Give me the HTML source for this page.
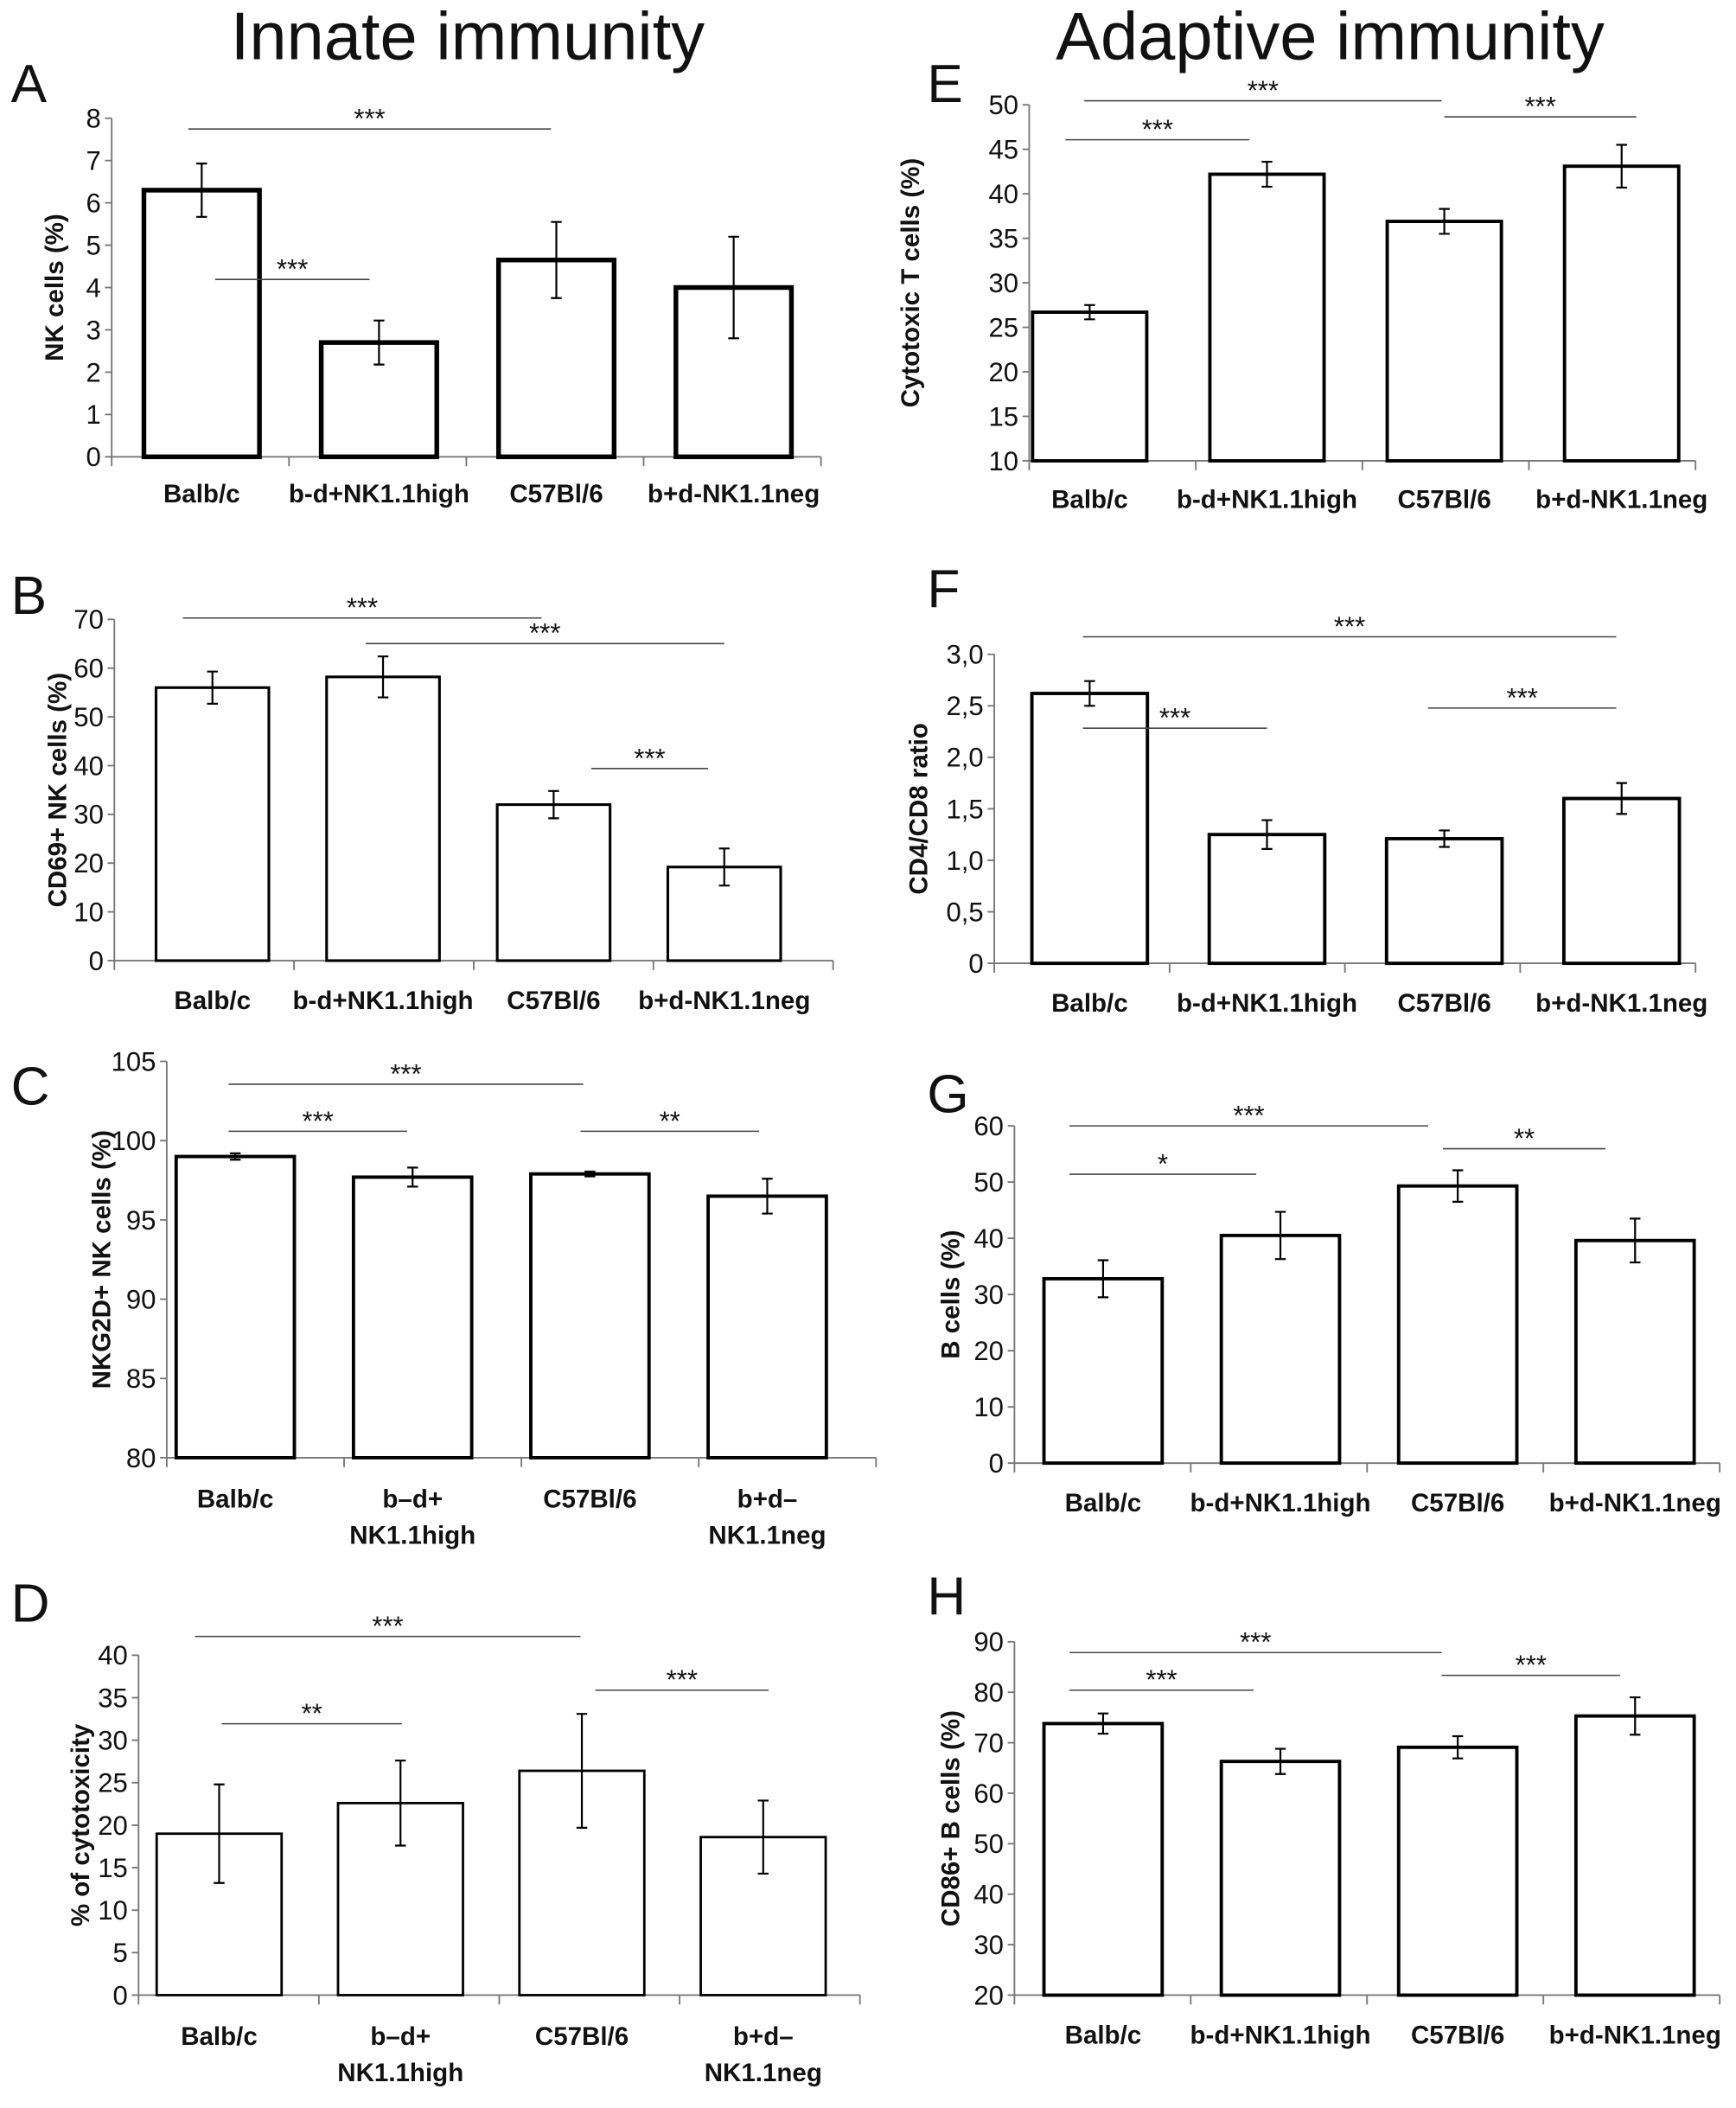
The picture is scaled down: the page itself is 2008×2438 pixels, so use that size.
<!DOCTYPE html>
<html><head><meta charset="utf-8"><style>
html,body{margin:0;padding:0;background:#fff;}
svg{display:block;}
text{font-family:"Liberation Sans Narrow","Liberation Sans",sans-serif;fill:#111;}
</style></head><body>
<svg id="fig" width="2008" height="2438" viewBox="0 0 1292 1569" xmlns="http://www.w3.org/2000/svg">
<text x="348" y="44" font-size="50" text-anchor="middle">Innate immunity</text>
<text x="990" y="44" font-size="50" text-anchor="middle">Adaptive immunity</text>
</svg>
<script>
const categories = ["Balb/c","b-d+NK1.1high","C57Bl/6","b+d-NK1.1neg"];
const aValues=[6.3,2.7,4.65,4.0]; const aErrors=[0.63,0.52,0.9,1.2];
const bValues=[56,58.2,32,19.2]; const bErrors=[3.3,4.2,2.8,3.8];
const cValues=[99.0,97.7,97.9,96.5]; const cErrors=[0.2,0.6,0.15,1.1];
const dValues=[19.0,22.6,26.4,18.6]; const dErrors=[5.8,5.0,6.7,4.3];
const eValues=[26.7,42.2,36.9,43.1]; const eErrors=[0.8,1.4,1.4,2.4];
const fValues=[2.62,1.25,1.21,1.6]; const fErrors=[0.12,0.14,0.08,0.15];
const gValues=[32.8,40.5,49.3,39.6]; const gErrors=[3.3,4.2,2.8,3.9];
const hValues=[73.8,66.3,69.1,75.3]; const hErrors=[2.0,2.5,2.2,3.7];
const aTicks=["0","1","2","3","4","5","6","7","8"];
const bTicks=["0","10","20","30","40","50","60","70"];
const cTicks=["80","85","90","95","100","105"];
const dTicks=["0","5","10","15","20","25","30","35","40"];
const eTicks=["10","15","20","25","30","35","40","45","50"];
const fTicks=["0","0,5","1,0","1,5","2,0","2,5","3,0"];
const gTicks=["0","10","20","30","40","50","60"];
const hTicks=["20","30","40","50","60","70","80","90"];
const NS="http://www.w3.org/2000/svg";
const svg=document.getElementById('fig');
function mk(tag,attrs,parent){const e=document.createElementNS(NS,tag);for(const k in attrs)e.setAttribute(k,attrs[k]);(parent||svg).appendChild(e);return e;}
const panels=[
 {id:'a',letter:'A',lx:8,ly:76,vals:aValues,errs:aErrors,ticks:aTicks,min:0,max:8,ax:83,y0:340,y1:88,c0:150,sp:132,bw:86,sw:3.5,axEnd:611,title:'NK cells (%)',tx:47,twoLine:false,lbY:367,
  sig:[[140,410,96,'***'],[160,275,208,'***']]},
 {id:'b',letter:'B',lx:8,ly:457,vals:bValues,errs:bErrors,ticks:bTicks,min:0,max:70,ax:85,y0:715,y1:461,c0:158,sp:127,bw:84,sw:2,axEnd:620,title:'CD69+ NK cells (%)',tx:49,twoLine:false,lbY:744,
  sig:[[136,403,460,'***'],[272,539,479,'***'],[440,527,572,'***']]},
 {id:'c',letter:'C',lx:8,ly:822,vals:cValues,errs:cErrors,ticks:cTicks,min:80,max:105,ax:124,y0:1085,y1:790,c0:175,sp:132,bw:88,sw:2.5,axEnd:652,title:'NKG2D+ NK cells (%)',tx:82,twoLine:true,lbY:1115,
  sig:[[170,434,807,'***'],[170,303,842,'***'],[432,565,842,'**']]},
 {id:'d',letter:'D',lx:8,ly:1207,vals:dValues,errs:dErrors,ticks:dTicks,min:0,max:40,ax:103,y0:1485,y1:1232,c0:163,sp:135,bw:93,sw:1.8,axEnd:640,title:'% of cytotoxicity',tx:66,twoLine:true,lbY:1515,
  sig:[[145,432,1218,'***'],[165,299,1283,'**'],[443,572,1258,'***']]},
 {id:'e',letter:'E',lx:690,ly:76,vals:eValues,errs:eErrors,ticks:eTicks,min:10,max:50,ax:766,y0:343,y1:78,c0:811,sp:132,bw:85,sw:2.5,axEnd:1262,title:'Cytotoxic T cells (%)',tx:684,twoLine:false,lbY:371,
  sig:[[807,1073,75,'***'],[793,930,104,'***'],[1075,1218,87,'***']]},
 {id:'f',letter:'F',lx:690,ly:452,vals:fValues,errs:fErrors,ticks:fTicks,min:0,max:3,ax:740,y0:717,y1:487,c0:811,sp:132,bw:86,sw:2.5,axEnd:1262,title:'CD4/CD8 ratio',tx:690,twoLine:false,lbY:746,
  sig:[[806,1203,474,'***'],[806,943,542,'***'],[1063,1203,527,'***']]},
 {id:'g',letter:'G',lx:690,ly:828,vals:gValues,errs:gErrors,ticks:gTicks,min:0,max:60,ax:755,y0:1089,y1:838,c0:821,sp:132,bw:88,sw:2.5,axEnd:1280,title:'B cells (%)',tx:714,twoLine:false,lbY:1118,
  sig:[[796,1063,838,'***'],[796,935,874,'*'],[1074,1195,855,'**']]},
 {id:'h',letter:'H',lx:690,ly:1202,vals:hValues,errs:hErrors,ticks:hTicks,min:20,max:90,ax:755,y0:1485,y1:1222,c0:821,sp:132,bw:88,sw:2.5,axEnd:1280,title:'CD86+ B cells (%)',tx:714,twoLine:false,lbY:1514,
  sig:[[796,1073,1230,'***'],[796,933,1258,'***'],[1073,1206,1247,'***']]}
];
const twoLineLabels=[["Balb/c",""],["b\u2013d+","NK1.1high"],["C57Bl/6",""],["b+d\u2013","NK1.1neg"]];
panels.forEach(p=>{
 const g=mk('g',{});
 
 
 const yS=v=>p.y0-(v-p.min)/(p.max-p.min)*(p.y0-p.y1);
 const xS=i=>p.c0+i*p.sp;
 const L=mk('text',{x:p.lx,y:p.ly,'font-size':40},g); L.textContent=p.letter;
 
 
 const ya=mk('line',{x1:p.ax,y1:p.y1,x2:p.ax,y2:p.y0,stroke:'#777','stroke-width':1.2},g);
 
 
 const xa=mk('line',{x1:p.ax,y1:p.y0,x2:p.axEnd,y2:p.y0,stroke:'#777','stroke-width':1.2},g);
 
 
 for(let k=0;k<=4;k++){const bx=p.ax+k*(p.axEnd-p.ax)/4;mk('line',{x1:bx,y1:p.y0,x2:bx,y2:p.y0+7,stroke:'#777','stroke-width':1.2},g);}
 const step=(p.max-p.min)/(p.ticks.length-1);
 p.ticks.forEach((t,i)=>{const y=yS(p.min+i*step);
  mk('line',{x1:p.ax-5,y1:y,x2:p.ax,y2:y,stroke:'#777','stroke-width':1.2},g);
  const tt=mk('text',{x:p.ax-8,y:y+7,'font-size':20,'text-anchor':'end'},g);tt.textContent=t;
  
  });
 const yt=mk('text',{x:0,y:0,'font-size':19,'font-weight':'bold','text-anchor':'middle',transform:`translate(${p.tx},${(p.y0+p.y1)/2}) rotate(-90)`,style:'font-family:"Liberation Sans",sans-serif'},g);
 yt.textContent=p.title;
 
 
 p.vals.forEach((v,i)=>{
  const x=xS(i),top=yS(v);
  const r=mk('rect',{x:x-p.bw/2,y:top,width:p.bw,height:p.y0-top,fill:'#fff',stroke:'#000','stroke-width':p.sw},g);
  
  
  const e=p.errs[i],ya1=yS(v+e),ya2=yS(v-e);
  const eb=mk('path',{d:`M${x},${ya1}V${ya2}M${x-4},${ya1}H${x+4}M${x-4},${ya2}H${x+4}`,stroke:'#000','stroke-width':1.4,fill:'none'},g);
  
  
  if(p.twoLine){
   const lb=twoLineLabels[i];
   const t1=mk('text',{x:x,y:p.lbY+7,'font-size':19,'font-weight':'bold','text-anchor':'middle'},g);t1.textContent=lb[0];
   
   
   if(lb[1]){const t2=mk('text',{x:x,y:p.lbY+34,'font-size':19,'font-weight':'bold','text-anchor':'middle'},g);t2.textContent=lb[1];
    
    }
  } else {
   const t1=mk('text',{x:x,y:p.lbY+7,'font-size':19,'font-weight':'bold','text-anchor':'middle'},g);t1.textContent=categories[i];
   
   
  }
 });
 p.sig.forEach(s=>{
  const sl=mk('line',{x1:s[0],y1:s[2],x2:s[1],y2:s[2],stroke:'#444','stroke-width':1},g);
  
  
  const st=mk('text',{x:(s[0]+s[1])/2,y:s[2]-1,'font-size':20,'text-anchor':'middle'},g);st.textContent=s[3];
  
  
 });
});
</script>
</body></html>
